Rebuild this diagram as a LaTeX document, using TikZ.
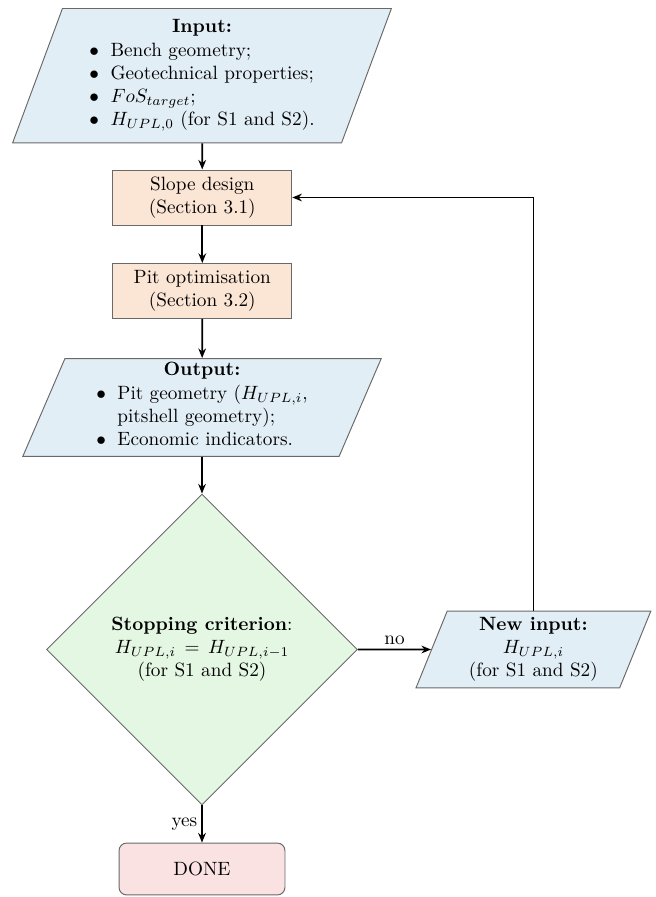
\documentclass[tikz,border=0pt]{standalone}
\usetikzlibrary{shapes.geometric,arrows.meta}
\definecolor{inblue}{RGB}{226,238,245}
\definecolor{peach}{RGB}{251,229,213}
\definecolor{lgreen}{RGB}{228,247,227}
\definecolor{lpink}{RGB}{250,226,227}
\definecolor{edgegray}{RGB}{105,105,105}
\begin{document}
\begin{tikzpicture}[x=0.52pt,y=-0.52pt,
  shapeborder/.style={draw=edgegray, line width=0.5pt},
  io/.style={shapeborder, fill=inblue, trapezium, trapezium left angle=71,
    trapezium right angle=109, trapezium stretches=true, align=center, inner sep=2pt},
  proc/.style={shapeborder, fill=peach, rectangle, minimum width=93.1pt,
    minimum height=28.6pt, align=center, inner sep=2pt},
  decision/.style={shapeborder, fill=lgreen, diamond, aspect=1,
    minimum width=161.7pt, minimum height=161.7pt, align=center, inner sep=0pt},
  term/.style={shapeborder, fill=lpink, rectangle, rounded corners=4pt,
    minimum width=86.3pt, minimum height=27pt, align=center},
  conn/.style={line width=0.95pt, -{Stealth[length=5pt,width=4pt]}},
  lbl/.style={font=\normalsize, inner sep=2pt}
]
\useasboundingbox (0,0) rectangle (655,897);

\node[io, minimum width=197.3pt, minimum height=69.9pt] (input) at (202,75.7)
  {\textbf{Input:}\\[1pt]
   \begin{tabular}{@{}c@{\hspace{6pt}}l@{}}
   $\bullet$ & Bench geometry;\\
   $\bullet$ & Geotechnical properties;\\
   $\bullet$ & $FoS_{target}$;\\
   $\bullet$ & $H_{UPL,0}$ (for S1 and S2).
   \end{tabular}};

\node[proc] (slope) at (202.3,197.5) {Slope design\\(Section 3.1)};
\node[proc] (pit) at (202.3,291) {Pit optimisation\\(Section 3.2)};

\node[io, minimum width=186.7pt, minimum height=50.4pt] (output) at (202,407.5)
  {\textbf{Output:}\\[1pt]
   \begin{tabular}{@{}c@{\hspace{6pt}}l@{}}
   $\bullet$ & Pit geometry ($H_{UPL,i}$,\\
             & pitshell geometry);\\
   $\bullet$ & Economic indicators.
   \end{tabular}};

\node[decision] (stop) at (202,649.5)
  {\textbf{Stopping criterion}:\\ $H_{UPL,i}\,=\,H_{UPL,i-1}$\\ (for S1 and S2)};

\node[io, minimum width=122.6pt, minimum height=40pt] (newin) at (533.4,649.5)
  {\textbf{New input:}\\ $H_{UPL,i}$\\ (for S1 and S2)};

\node[term] (done) at (202,869) {DONE};

\draw[conn] (input) -- (slope);
\draw[conn] (slope) -- (pit);
\draw[conn] (pit) -- (output);
\draw[conn] (output) -- (stop);
\draw[conn] (stop.east) -- node[lbl, above] {no} (newin.west);
\draw[conn] (newin.north) |- (slope.east);
\draw[conn] (stop.south) -- node[lbl, left] {yes} (done.north);
\end{tikzpicture}
\end{document}
